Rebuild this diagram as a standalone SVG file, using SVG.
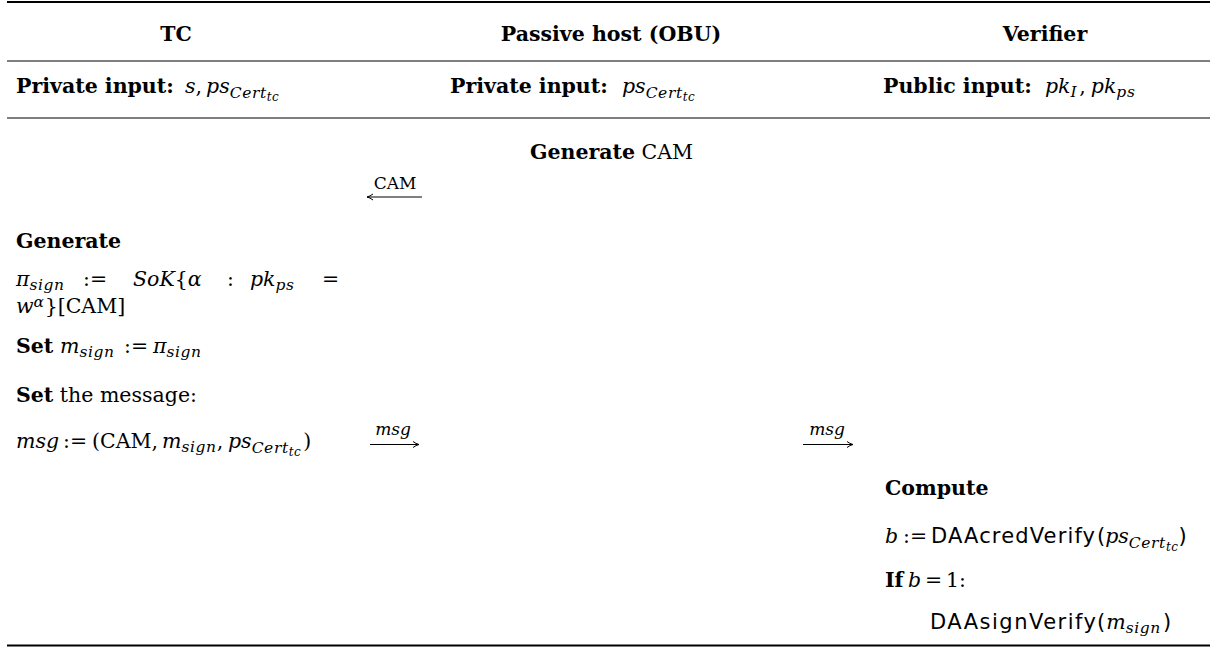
<svg xmlns="http://www.w3.org/2000/svg" width="1217" height="648" viewBox="0 0 1217 648">
<style>
text { font-family: "DejaVu Serif", "Liberation Serif", serif; font-size: 20.5px; fill: #000; }
.b { font-weight: bold; }
.i { font-style: italic; }
.sub { font-size: 15.5px; letter-spacing: 0.6px; }
.sub2 { font-size: 12px; letter-spacing: 0.5px; }
.sf { font-family: "DejaVu Sans", "Liberation Sans", sans-serif; font-size: 21px; }
.lbl { font-size: 17px; }
.rule { stroke: #000; fill: none; }
.arr { stroke: #000; stroke-width: 1; fill: none; }
</style>
<defs>
<marker id="ah" markerWidth="8" markerHeight="8" refX="6" refY="4" orient="auto" markerUnits="userSpaceOnUse">
<path d="M0,1 Q3,3.3 6,4 Q3,4.7 0,7" fill="none" stroke="#000" stroke-width="1"/>
</marker>
</defs>
<rect width="1217" height="648" fill="#fff"/>

<g id="rules">
<line class="rule" x1="7" y1="2" x2="1210" y2="2" stroke-width="1.8"/>
<line class="rule" x1="7" y1="61" x2="1210" y2="61" stroke-width="1.2" stroke="#333"/>
<line class="rule" x1="7" y1="118" x2="1210" y2="118" stroke-width="1.2" stroke="#333"/>
<line class="rule" x1="7" y1="645.5" x2="1210" y2="645.5" stroke-width="2"/>
</g>

<g id="header">
<text class="b" x="176" y="41" text-anchor="middle">TC</text>
<text class="b" x="611" y="41" text-anchor="middle">Passive host (OBU)</text>
<text class="b" x="1045" y="41" text-anchor="middle">Verifier</text>
</g>

<g id="inputs">
<text y="93"><tspan x="16" class="b">Private input:</tspan><tspan x="185" class="i">s</tspan><tspan>,</tspan><tspan class="i" dx="4">ps</tspan><tspan class="i sub" dy="5">Cert</tspan><tspan class="i sub2" dy="3">tc</tspan></text>
<text y="93"><tspan x="450" class="b">Private input:</tspan><tspan x="622" class="i">ps</tspan><tspan class="i sub" dy="5">Cert</tspan><tspan class="i sub2" dy="3">tc</tspan></text>
<text y="93"><tspan x="883" class="b">Public input:</tspan><tspan x="1045" class="i">pk</tspan><tspan class="i sub" dy="4">I</tspan><tspan dy="-4" dx="2">,</tspan><tspan class="i" dx="5">pk</tspan><tspan class="i sub" dy="4">ps</tspan></text>
</g>

<g id="obu">
<text x="530" y="159"><tspan class="b">Generate</tspan> CAM</text>
</g>

<g id="tc">
<text class="b" x="16" y="248">Generate</text>
<text y="286"><tspan x="16" class="i">π</tspan><tspan class="i sub" dy="4">sign</tspan><tspan x="83" dy="-4">:=</tspan><tspan x="133" class="i">SoK</tspan><tspan>{</tspan><tspan class="i">α</tspan><tspan x="227">:</tspan><tspan x="250" class="i">pk</tspan><tspan class="i sub" dy="4">ps</tspan><tspan x="322" dy="-4">=</tspan></text>
<text y="313"><tspan x="16" class="i">w</tspan><tspan class="i sub" dy="-6">α</tspan><tspan dy="6">}[CAM]</tspan></text>
<text y="353"><tspan x="16" class="b">Set</tspan><tspan x="60" class="i">m</tspan><tspan class="i sub" dy="4">sign</tspan><tspan x="124" dy="-4">:=</tspan><tspan x="153" class="i">π</tspan><tspan class="i sub" dy="4">sign</tspan></text>
<text x="16" y="402"><tspan class="b">Set</tspan> the message:</text>
<text y="448"><tspan x="16" class="i">msg</tspan><tspan x="63">:=</tspan><tspan x="92">(CAM,</tspan><tspan x="162" class="i">m</tspan><tspan class="i sub" dy="4">sign</tspan><tspan dy="-4">,</tspan><tspan x="228" class="i">ps</tspan><tspan class="i sub" dy="5">Cert</tspan><tspan class="i sub2" dy="3">tc</tspan><tspan dy="-8" dx="2">)</tspan></text>
</g>

<g id="verifier">
<text class="b" x="885" y="495">Compute</text>
<text y="543"><tspan x="885" class="i">b</tspan><tspan x="903">:=</tspan></text>
<text class="sf" x="931" y="543" textLength="164" lengthAdjust="spacing">DAAcredVerify</text>
<text y="543"><tspan x="1097" class="sf">(</tspan><tspan class="i">ps</tspan><tspan class="i sub" dy="5">Cert</tspan><tspan class="i sub2" dy="3">tc</tspan><tspan class="sf" dy="-8">)</tspan></text>
<text y="587"><tspan x="885" class="b">If</tspan><tspan x="908" class="i">b</tspan><tspan x="925">=</tspan><tspan x="946">1:</tspan></text>
<text class="sf" x="930" y="629" textLength="166" lengthAdjust="spacing">DAAsignVerify</text>
<text y="629"><tspan x="1097" class="sf">(</tspan><tspan class="i" dx="1">m</tspan><tspan class="i sub" dy="4">sign</tspan><tspan class="sf" dy="-4" dx="2">)</tspan></text>
</g>

<g id="connectors">
<text class="lbl" x="395" y="189" text-anchor="middle">CAM</text>
<line class="arr" x1="422" y1="197" x2="367" y2="197" marker-end="url(#ah)"/>
<text class="i lbl" x="393" y="435" text-anchor="middle">msg</text>
<line class="arr" x1="370" y1="444.5" x2="419" y2="444.5" marker-end="url(#ah)"/>
<text class="i lbl" x="827" y="435" text-anchor="middle">msg</text>
<line class="arr" x1="803" y1="444.5" x2="853" y2="444.5" marker-end="url(#ah)"/>
</g>
</svg>
